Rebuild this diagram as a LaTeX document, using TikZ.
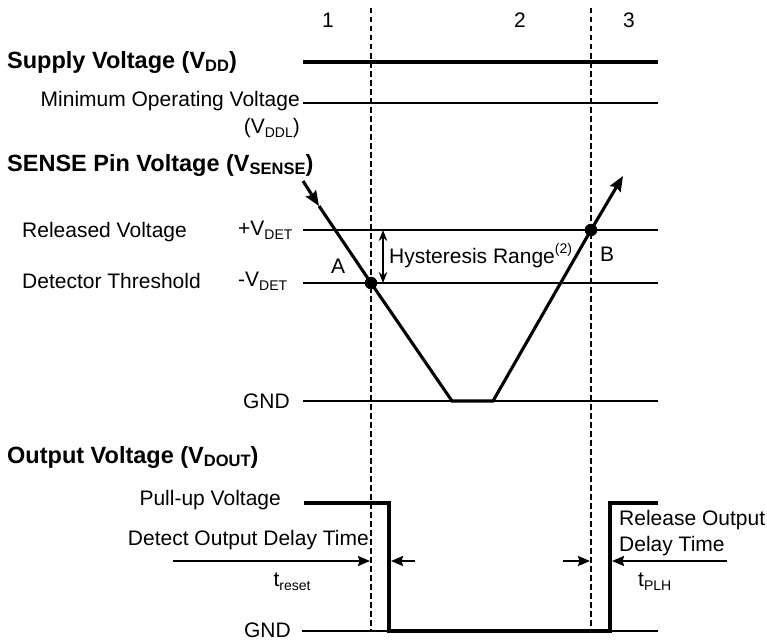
\documentclass[tikz,border=0pt]{standalone}
\usepackage{fontspec}
\setmainfont{Liberation Sans}
\usetikzlibrary{arrows.meta}
\newcommand\lsub[1]{\raisebox{-0.35ex}{\fontsize{14}{14}\selectfont #1}}
\newcommand\bsub[1]{\raisebox{-0.3ex}{\fontsize{16.5}{16.5}\selectfont #1}}
\newcommand\lsup[1]{\raisebox{0.9ex}{\fontsize{14}{14}\selectfont #1}}
\tikzset{
  lbl/.style={font=\fontsize{21}{25}\selectfont, inner sep=0pt},
  head/.style={font=\bfseries\fontsize{23.5}{28}\selectfont, inner sep=0pt, anchor=west},
  thinl/.style={line width=1.4pt},
  sig/.style={line width=3.1pt},
  guide/.style={line width=1.2pt, dash pattern=on 5.5pt off 3.5pt},
  bigtip/.style={-{Stealth[length=15pt,width=12pt,inset=2pt]}},
  midtip/.style={line width=2pt,-{Stealth[length=12pt,width=10pt,inset=1.5pt]}},
  dot/.style={circle, fill=black, inner sep=0pt, minimum size=12.5pt},
  hyst/.style={line width=1.1pt, {Stealth[length=11pt,width=8.5pt]}-{Stealth[length=11pt,width=8.5pt]}},
}
\begin{document}
\begin{tikzpicture}[x=1pt,y=-1pt]
\useasboundingbox (0,0) rectangle (767,642);
% region numbers
\node[lbl] (n1) at (328,20) {1};
\node[lbl] (n2) at (520,20) {2};
\node[lbl] (n3) at (629,20) {3};
% dashed guides
\coordinate (g1t) at (371,8);  \coordinate (g1b) at (371,632);
\coordinate (g2t) at (591,8);  \coordinate (g2b) at (591,632);
\draw[guide] (g1t) -- (g1b);
\draw[guide] (g2t) -- (g2b);
% supply section
\node[head] (sv) at (7,62) {Supply Voltage (V\bsub{DD})};
\coordinate (s1) at (303,62); \coordinate (s2) at (658,62);
\draw[sig] (s1) -- (s2);
\node[lbl, anchor=east] (mov) at (300,101) {Minimum Operating Voltage};
\node[lbl, anchor=east] (vddl) at (300,128) {(V\lsub{DDL})};
\coordinate (m1) at (303,103); \coordinate (m2) at (658,103);
\draw[thinl] (m1) -- (m2);
% sense section
\node[head] (sp) at (7,165) {SENSE Pin Voltage (V\bsub{SENSE})};
\node[lbl, anchor=west] (rv) at (22,232) {Released Voltage};
\node[lbl, anchor=west] (pv) at (238,230) {+V\lsub{DET}};
\node[lbl, anchor=west] (dt) at (22,281) {Detector Threshold};
\node[lbl, anchor=west] (mv) at (238,281) {-V\lsub{DET}};
\node[lbl, anchor=east] (gnd1) at (290,401) {GND};
\coordinate (p1) at (303,230); \coordinate (p2) at (658,230);
\coordinate (q1) at (303,283); \coordinate (q2) at (658,283);
\coordinate (r1) at (303,401); \coordinate (r2) at (658,401);
\draw[thinl] (p1) -- (p2);
\draw[thinl] (q1) -- (q2);
\draw[thinl] (r1) -- (r2);
% V-shaped waveform
\coordinate (v0) at (303,181);
\coordinate (v1) at (319,206);
\node[dot] (A) at (371,283) {};
\coordinate (v2) at (452,401);
\coordinate (v3) at (493,401);
\node[dot] (B) at (591,230) {};
\coordinate (v4) at (623,176);
\draw[sig, bigtip] (v0) -- (v1);
\draw[sig, line join=miter] (v1) -- (A.center) -- (v2) -- (v3) -- (B.center);
\draw[sig, bigtip] (B.center) -- (v4);
\node[lbl] (la) at (338,266) {A};
\node[lbl] (lb) at (607,254) {B};
% hysteresis
\coordinate (h1) at (383,230); \coordinate (h2) at (383,283);
\draw[hyst] (h1) -- (h2);
\node[lbl, anchor=west] (hr) at (389,256) {Hysteresis Range\lsup{(2)}};
% output section
\node[head] (ov) at (7,457) {Output Voltage (V\bsub{DOUT})};
\node[lbl, anchor=east] (pu) at (281,500) {Pull-up Voltage};
\node[lbl, anchor=east] (gnd2) at (291,630) {GND};
\coordinate (o1) at (304,503); \coordinate (o2) at (389,503);
\coordinate (o3) at (389,631); \coordinate (o4) at (610,631);
\coordinate (o5) at (610,503); \coordinate (o6) at (658,503);
\coordinate (z1) at (302,631); \coordinate (z2) at (658,631);
\draw[thinl] (z1) -- (z2);
\draw[sig, line join=miter] (o1) -- (o2) -- (o3) -- (o4) -- (o5) -- (o6);
\node[lbl, anchor=east] (dd) at (369,540) {Detect Output Delay Time};
\coordinate (a1) at (173,561); \coordinate (a2) at (370,561);
\coordinate (a3) at (415,561); \coordinate (a4) at (391,561);
\draw[midtip] (a1) -- (a2);
\draw[midtip] (a3) -- (a4);
\node[lbl] (tr) at (292,582) {t\lsub{reset}};
\coordinate (b1) at (563,561); \coordinate (b2) at (590,561);
\coordinate (b3) at (727,561); \coordinate (b4) at (612,561);
\draw[midtip] (b1) -- (b2);
\draw[midtip] (b3) -- (b4);
\node[lbl, anchor=west] (ro) at (619,520) {Release Output};
\node[lbl, anchor=west] (rd) at (619,546) {Delay Time};
\node[lbl, anchor=west] (tp) at (638,582) {t\lsub{PLH}};
\end{tikzpicture}
\end{document}
